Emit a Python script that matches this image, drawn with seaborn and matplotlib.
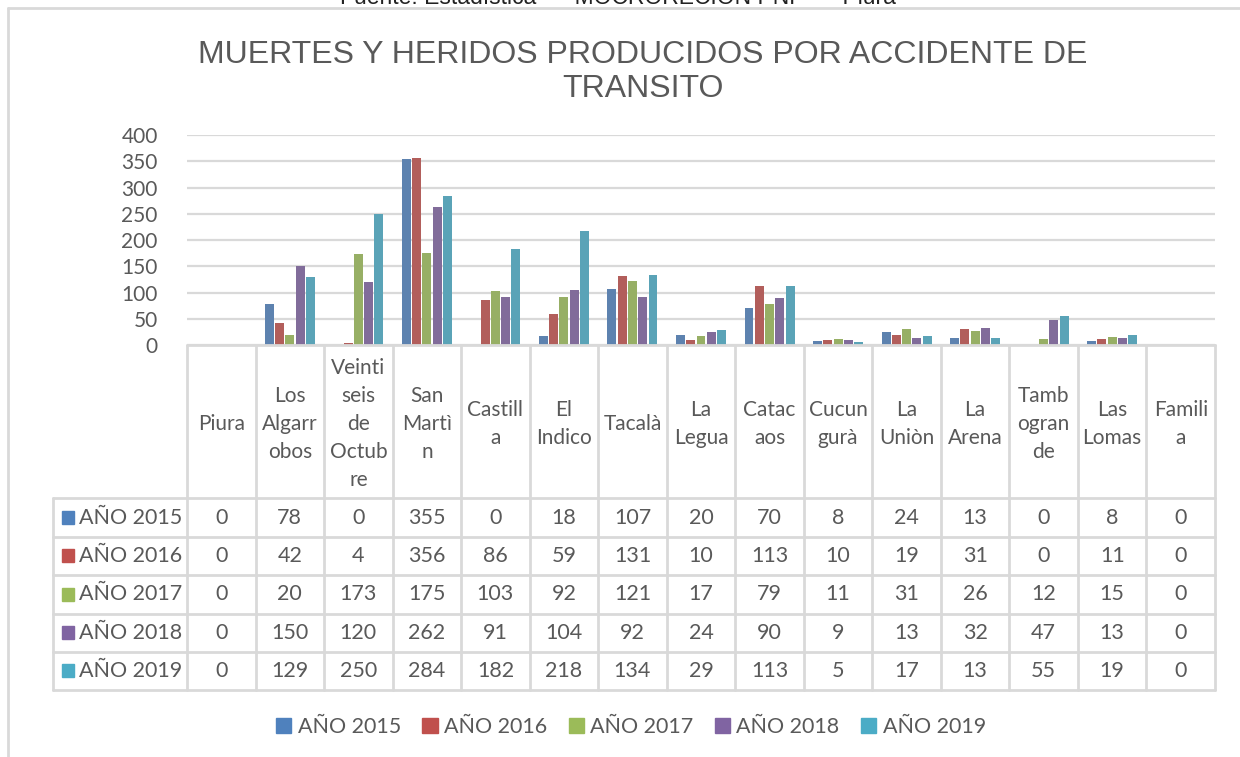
import numpy as np
import pandas as pd
import matplotlib
matplotlib.use("Agg")
import matplotlib.pyplot as plt
import matplotlib.transforms as mtrans
import seaborn as sns

# ---------------------------------------------------------------
# data
# ---------------------------------------------------------------
lugares = ["Piura", "Los Algarrobos", "Veintiseis de Octubre", "San Martì", "Castilla",
           "El Indico", "Tacalà", "La Legua", "Catacaos", "Cucungurà",
           "La Uniòn", "La Arena", "Tambogrande", "Las Lomas", "Familia"]
# how the names wrap inside the table header
lugaresHeader = ["Piura", "Los\nAlgarr\nobos", "Veinti\nseis\nde\nOctub\nre", "San\nMartì\nn",
                 "Castill\na", "El\nIndico", "Tacalà", "La\nLegua", "Catac\naos", "Cucun\ngurà",
                 "La\nUniòn", "La\nArena", "Tamb\nogran\nde", "Las\nLomas", "Famili\na"]
anios = ["AÑO 2015", "AÑO 2016", "AÑO 2017", "AÑO 2018", "AÑO 2019"]

anio2015 = [0, 78, 0, 355, 0, 18, 107, 20, 70, 8, 24, 13, 0, 8, 0]
anio2016 = [0, 42, 4, 356, 86, 59, 131, 10, 113, 10, 19, 31, 0, 11, 0]
anio2017 = [0, 20, 173, 175, 103, 92, 121, 17, 79, 11, 31, 26, 12, 15, 0]
anio2018 = [0, 150, 120, 262, 91, 104, 92, 24, 90, 9, 13, 32, 47, 13, 0]
anio2019 = [0, 129, 250, 284, 182, 218, 134, 29, 113, 5, 17, 13, 55, 19, 0]

colores = ["#4F81BD", "#C0504D", "#9BBB59", "#8064A2", "#4BACC6"]

# ---------------------------------------------------------------
# figure
# ---------------------------------------------------------------
W, H = 1240, 757
TXT = "#595959"
GRID = "#D9D9D9"
FS = 15

series = [anio2015, anio2016, anio2017, anio2018, anio2019]
df = pd.DataFrame({anio: vals for (anio, vals) in zip(anios, series)}, index=lugares)
dfLong = df.reset_index().melt(id_vars="index", var_name="anio", value_name="valor")
dfLong = dfLong.rename(columns={"index": "lugar"})

sns.set_style("white")
plt.rcParams["font.family"] = ["Lato", "DejaVu Sans"]

fig = plt.figure(figsize=(W / 100, H / 100), dpi=100)

def fx(x):
    return x / W

def fy(y):
    return 1 - y / H

ax = fig.add_axes([fx(187), fy(345), fx(1215) - fx(187), fy(135) - fy(345)])

sns.barplot(ax=ax, data=dfLong, x="lugar", y="valor", hue="anio", order=lugares,
            hue_order=anios, palette=colores, width=0.75, gap=0.13,
            linewidth=0, legend=False)

ax.set_ylim(0, 400)
ax.set_xlim(-0.5, len(lugares) - 0.5)
ax.set_yticks(range(0, 401, 50))
ax.yaxis.grid(True, color=GRID, linewidth=1.6)
ax.set_axisbelow(True)
ax.tick_params(axis="y", length=0, pad=21, labelsize=FS, labelcolor=TXT)
ax.set_xticks([])
ax.set_xlabel("")
ax.set_ylabel("")
for sp in ax.spines.values():
    sp.set_visible(False)

# ---------------------------------------------------------------
# data table under the bars
# ---------------------------------------------------------------
tr = mtrans.blended_transform_factory(ax.transData, fig.transFigure)
rowsY = [345, 498, 537, 575, 614, 652, 690]

lineKw = dict(color=GRID, linewidth=2, clip_on=False, transform=fig.transFigure)
xLab = fx(53)
for (i, y) in enumerate(rowsY):
    fig.add_artist(plt.Line2D([fx(187) if i == 0 else xLab, fx(1215)], [fy(y), fy(y)], **lineKw))
fig.add_artist(plt.Line2D([xLab, xLab], [fy(498), fy(690)], **lineKw))
for k in range(len(lugares) + 1):
    xb = k - 0.5
    ax.plot([xb, xb], [fy(345), fy(690)], color=GRID, linewidth=2, clip_on=False, transform=tr)

for (i, name) in enumerate(lugaresHeader):
    ax.text(i, fy(424), name, transform=tr, ha="center", va="center", fontsize=FS,
            color=TXT, linespacing=1.5)

for (r, anio) in enumerate(anios):
    yc = fy((rowsY[r + 1] + rowsY[r + 2]) / 2)
    fig.patches.append(plt.Rectangle((fx(62), yc - 6 / H), 12 / W, 13 / H, color=colores[r],
                                     transform=fig.transFigure, figure=fig))
    fig.text(fx(79), yc, anio, ha="left", va="center", fontsize=FS + 0.5, color=TXT)
    for (i, v) in enumerate(df[anio].values):
        ax.text(i, yc, str(v), transform=tr, ha="center", va="center", fontsize=FS + 0.5, color=TXT)

# ---------------------------------------------------------------
# legend
# ---------------------------------------------------------------
handles = [plt.Rectangle((0, 0), 1, 1, color=c) for c in colores]
fig.legend(handles, anios, loc="center", bbox_to_anchor=(fx(631), fy(727)), ncol=5,
           frameon=False, fontsize=FS + 0.5, handlelength=0.7, handleheight=0.7,
           handletextpad=0.3, columnspacing=1.0, labelcolor=TXT)

# ---------------------------------------------------------------
# title, frame, cut source line
# ---------------------------------------------------------------
fig.text(fx(643), fy(72), "MUERTES Y HERIDOS PRODUCIDOS POR ACCIDENTE DE\nTRANSITO",
         ha="center", va="center", fontsize=23, color=TXT, family="Liberation Sans",
         linespacing=1.17)
fig.text(fx(618), fy(4), "Fuente: Estadística  –  MOCRORECIÓN PNP  –  Piura",
         ha="center", va="baseline", fontsize=16.5, color="#222222", family="Liberation Sans")
fig.add_artist(plt.Line2D([fx(8), 1.0], [fy(8), fy(8)], color=GRID, linewidth=2,
                          transform=fig.transFigure))
fig.add_artist(plt.Line2D([fx(8), fx(8)], [fy(8), 0.0], color=GRID, linewidth=2,
                          transform=fig.transFigure))

fig.savefig("out.png", dpi=100, facecolor="white")
plt.close(fig)
